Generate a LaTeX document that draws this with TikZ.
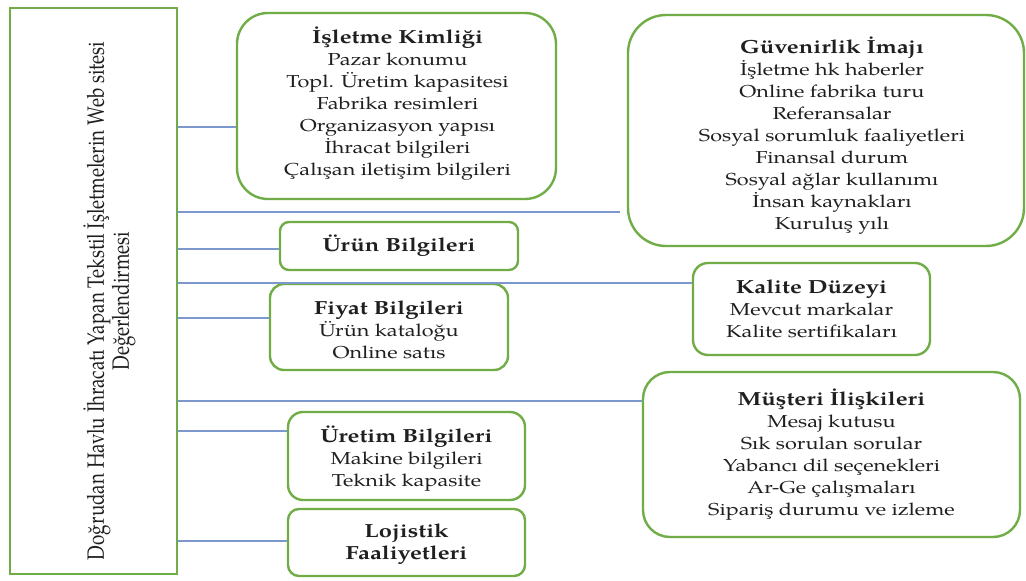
\documentclass[tikz,border=0pt]{standalone}
\usepackage{fontspec}
\setmainfont{texgyrepagella}[Extension=.otf, UprightFont=*-regular, BoldFont=*-bold, ItalicFont=*-italic, BoldItalicFont=*-bolditalic]
\newfontfamily\boxfont{texgyrepagella}[Extension=.otf, UprightFont=*-regular, BoldFont=*-bold, FakeStretch=1.25]
\definecolor{boxgreen}{RGB}{112,173,71}
\definecolor{linkblue}{RGB}{125,152,205}
\newcommand{\ttl}[1]{{\fontsize{19}{22}\selectfont\bfseries #1}}
\begin{document}
\begin{tikzpicture}[x=1pt,y=-1pt,
  rbox/.style={draw=boxgreen, line width=2.4pt, fill=white, inner sep=0pt},
  txt/.style={align=center, inner sep=0pt, font=\boxfont\fontsize{17.3}{22}\selectfont, text=black!88},
  link/.style={draw=linkblue, line width=1.1pt}]
\useasboundingbox (0,0) rectangle (1026,581);
\fill[white] (0,0) rectangle (1026,581);

% main box
\node[draw=boxgreen, line width=1.8pt, minimum width=167pt, minimum height=566pt, inner sep=0pt] (main) at (93.5,291) {};
\node[xscale=1.25, rotate=90, align=center, font=\fontsize{18.85}{20}\selectfont, text=black!88] (mainlabel) at (109.5,301)
  {Doğrudan Havlu İhracatı Yapan Tekstil İşletmelerin Web sitesi\\Değerlendirmesi};

% boxes
\node[rbox, rounded corners=31pt, minimum width=319pt, minimum height=186pt] (isl) at (396.5,106) {};
\node[rbox, rounded corners=38pt, minimum width=396pt, minimum height=231pt] (guv) at (826,130.5) {};
\node[rbox, rounded corners=9pt, minimum width=238pt, minimum height=48pt] (urun) at (399,246) {};
\node[rbox, rounded corners=14pt, minimum width=238pt, minimum height=86pt] (fiyat) at (389,327) {};
\node[rbox, rounded corners=15pt, minimum width=237pt, minimum height=92pt] (kal) at (811.5,309) {};
\node[rbox, rounded corners=27pt, minimum width=377pt, minimum height=165pt] (mus) at (831.5,454.5) {};
\node[rbox, rounded corners=15pt, minimum width=237pt, minimum height=88pt] (uret) at (406.5,456) {};
\node[rbox, rounded corners=11pt, minimum width=237pt, minimum height=67pt] (loj) at (406.5,542.5) {};

% box texts
\node[txt] (islt) at ([xshift=1pt, yshift=2pt]isl.center)
  {\ttl{İşletme Kimliği}\\Pazar konumu\\Topl. Üretim kapasitesi\\Fabrika resimleri\\Organizasyon yapısı\\İhracat bilgileri\\Çalışan iletişim bilgileri};
\node[txt] (guvt) at ([xshift=6pt, yshift=-5pt]guv.center)
  {\ttl{Güvenirlik İmajı}\\İşletme hk haberler\\Online fabrika turu\\Referansalar\\Sosyal sorumluk faaliyetleri\\Finansal durum\\Sosyal ağlar kullanımı\\İnsan kaynakları\\Kuruluş yılı};
\node[txt] (urunt) at (urun.center) {\ttl{Ürün Bilgileri}};
\node[txt] (fiyatt) at ([yshift=-3pt]fiyat.center)
  {\ttl{Fiyat Bilgileri}\\Ürün kataloğu\\Online satıs};
\node[txt] (kalt) at (kal.center)
  {\ttl{Kalite Düzeyi}\\Mevcut markalar\\Kalite sertifikaları};
\node[txt] (must) at (mus.center)
  {\ttl{Müşteri İlişkileri}\\Mesaj kutusu\\Sık sorulan sorular\\Yabancı dil seçenekleri\\Ar-Ge çalışmaları\\Sipariş durumu ve izleme};
\node[txt] (urett) at ([yshift=-3pt]uret.center)
  {\ttl{Üretim Bilgileri}\\Makine bilgileri\\Teknik kapasite};
\node[txt] (lojt) at ([yshift=-2pt]loj.center)
  {\ttl{Lojistik}\\\ttl{Faaliyetleri}};

% connector heights
\coordinate (c1) at (0,127);
\coordinate (c2) at (0,212);
\coordinate (c3) at (0,249);
\coordinate (c4) at (0,283);
\coordinate (c5) at (0,318);
\coordinate (c6) at (0,401);
\coordinate (c7) at (0,431);
\coordinate (c8) at (0,541);
\coordinate (g2) at (620,212);

\draw[link] (main.east |- c1) -- (isl.west |- c1);
\draw[link] (main.east |- c2) -- (g2);
\draw[link] (main.east |- c3) -- (urun.west |- c3);
\draw[link] (main.east |- c4) -- (kal.west |- c4);
\draw[link] (main.east |- c5) -- (fiyat.west |- c5);
\draw[link] (main.east |- c6) -- (mus.west |- c6);
\draw[link] (main.east |- c7) -- (uret.west |- c7);
\draw[link] (main.east |- c8) -- (loj.west |- c8);
\end{tikzpicture}
\end{document}
